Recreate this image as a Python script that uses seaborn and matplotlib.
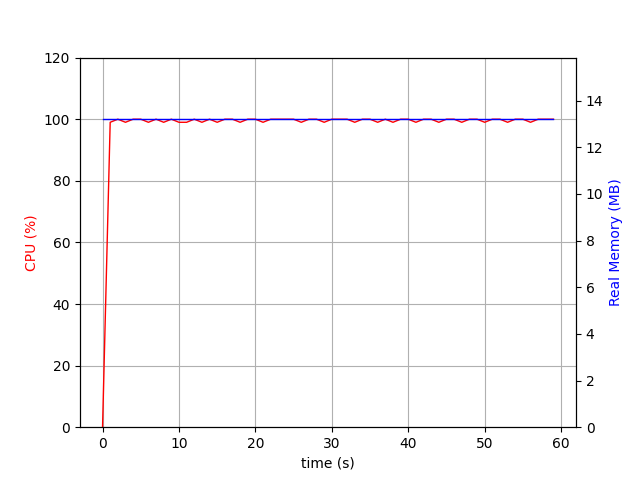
import matplotlib
matplotlib.use("Agg")
import matplotlib.pyplot as plt
import seaborn as sns
import pandas as pd

time_s = list(range(60))
dip_times = [1, 3, 6, 8, 10, 11, 13, 15, 18, 21, 26, 29, 33, 36, 38, 41, 44, 47, 50, 53, 56]
cpu_pct = [0.0] + [99.0 if t in dip_times else 100.0 for t in time_s[1:]]
mem_mb = [13.2] * 60

df = pd.DataFrame({"time": time_s, "cpu": cpu_pct, "mem": mem_mb})

fig, ax1 = plt.subplots(figsize=(6.4, 4.8), dpi=100)
sns.lineplot(data=df, x="time", y="cpu", ax=ax1, color="red", linewidth=1)
ax1.set_xlabel("time (s)")
ax1.set_ylabel("CPU (%)", color="red")
ax1.set_ylim(0, max(cpu_pct) * 1.2)
ax1.grid(True)

ax2 = ax1.twinx()
sns.lineplot(data=df, x="time", y="mem", ax=ax2, color="blue", linewidth=1)
ax2.set_ylabel("Real Memory (MB)", color="blue")
ax2.set_ylim(0, max(mem_mb) * 1.2)
ax2.set_yticks([0, 2, 4, 6, 8, 10, 12, 14])

fig.savefig("out.png", dpi=100)
